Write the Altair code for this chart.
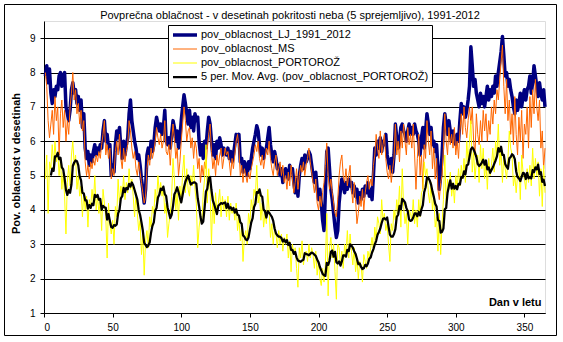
import altair as alt
import pandas as pd

days = list(range(1, 366))

lj = [
    7.9, 8.2, 7.7, 8.1, 7.4, 7.1, 7.5, 7.3, 7.6, 7.5,
    7.9, 8.0, 7.6, 7.9, 8.0, 7.0, 6.8, 6.6, 6.9, 7.5,
    7.7, 7.4, 7.5, 7.1, 7.3, 6.9, 7.2, 6.4, 6.8, 5.8,
    5.5, 5.7, 5.3, 5.6, 5.4, 5.7, 5.9, 5.6, 5.8, 5.7,
    5.9, 5.8, 6.3, 6.6, 6.0, 6.2, 5.8, 5.9, 5.0, 5.3,
    5.1, 5.9, 6.3, 6.1, 6.4, 5.8, 5.5, 6.0, 5.6, 5.9,
    6.1, 6.8, 7.2, 6.6, 6.3, 6.0, 5.8, 5.5, 5.6, 5.3,
    4.9, 4.6, 4.2, 4.6, 5.6, 5.8, 5.5, 6.0, 5.7, 5.9,
    6.4, 6.7, 6.5, 6.3, 6.5, 6.2, 6.4, 6.9, 6.0, 5.9,
    6.1, 5.8, 6.2, 6.6, 6.4, 6.0, 6.3, 5.8, 6.1, 6.6,
    7.0, 7.35, 7.1, 6.8, 6.5, 6.9, 6.4, 6.7, 6.3, 6.8,
    6.6, 6.7, 6.0, 5.6, 5.9, 5.5, 6.0, 5.8, 6.3, 6.7,
    6.5, 6.0, 5.6, 5.9, 5.5, 6.0, 5.8, 6.1, 5.9, 5.6,
    5.8, 5.7, 5.6, 5.8, 5.5, 5.7, 5.4, 5.6, 5.9, 6.2,
    6.0, 6.2, 5.4, 5.5, 5.1, 5.4, 5.3, 5.0, 5.4, 5.2,
    5.5, 5.8, 6.0, 6.2, 6.45, 6.3, 5.9, 5.6, 5.8, 5.5,
    5.7, 5.8, 6.1, 6.4, 5.9, 5.6, 5.4, 5.7, 5.5, 5.2,
    5.3, 5.0, 5.2, 4.8, 5.1, 5.2, 5.0, 4.9, 5.3, 5.1,
    5.2, 4.8, 4.5, 4.9, 4.4, 5.0, 5.3, 5.5, 5.2, 5.6,
    5.4, 5.5, 5.7, 5.6, 5.3, 5.0, 4.8, 5.1, 4.6, 4.3,
    4.6, 4.2, 3.7, 3.4, 4.5, 5.7, 5.8, 5.2, 4.6, 4.3,
    3.9, 3.5, 3.2, 3.4, 4.2, 4.6, 4.9, 4.7, 4.5, 4.8,
    4.6, 4.9, 4.7, 4.8, 4.5, 4.7, 4.4, 4.6, 4.2, 4.5,
    4.3, 4.6, 4.4, 4.7, 4.5, 4.8, 4.4, 4.6, 4.3, 5.0,
    5.8, 5.6, 6.0, 5.8, 6.1, 5.7, 6.0, 5.9, 6.2, 5.6,
    5.4, 5.2, 5.5, 5.1, 5.6, 6.5, 6.1, 5.8, 6.0, 6.4,
    6.5, 6.3, 6.2, 6.0, 6.3, 6.5, 6.2, 6.4, 6.2, 6.5,
    6.3, 6.2, 6.0, 5.6, 6.1, 6.4, 5.8, 6.3, 6.8, 6.5,
    6.2, 6.4, 5.9, 6.0, 5.7, 5.9, 5.2, 4.6, 5.0, 5.6,
    6.4, 6.8, 6.5, 6.2, 6.6, 6.3, 6.0, 6.3, 6.0, 5.9,
    6.2, 6.0, 6.6, 7.1, 6.8, 7.0, 6.7, 6.9, 7.2, 7.6,
    8.75, 8.2, 7.6, 7.8, 7.4, 7.2, 7.0, 7.4, 7.1, 7.3,
    7.0, 7.3, 7.6, 7.2, 7.5, 7.3, 7.6, 7.4, 7.9, 7.6,
    8.0, 8.3, 8.6, 9.05, 8.5, 7.9, 8.0, 7.6, 7.8, 7.5,
    7.3, 7.0, 6.8, 7.2, 6.9, 7.1, 7.4, 7.0, 7.3, 7.5,
    7.2, 7.5, 7.6, 7.9, 7.4, 7.7, 8.2, 7.9, 7.6, 7.3,
    7.7, 7.4, 7.2, 7.5, 7.0,
]

ms = [
    8.0, 7.6, 6.6, 6.1, 6.5, 6.9, 6.2, 7.3, 6.6, 7.0,
    5.6, 6.8, 7.2, 6.4, 6.9, 6.0, 6.6, 6.2, 7.0, 7.4,
    8.0, 7.2, 7.5, 6.8, 7.1, 6.5, 6.9, 6.3, 6.6, 5.4,
    5.0, 5.3, 4.9, 5.4, 5.2, 5.5, 5.3, 5.6, 5.4, 5.7,
    5.5, 5.9, 6.2, 6.6, 5.6, 5.9, 5.5, 5.8, 4.9, 5.2,
    5.0, 5.7, 6.0, 5.6, 6.2, 5.5, 5.2, 5.8, 5.4, 5.7,
    5.9, 6.6, 6.3, 5.8, 5.5, 5.7, 5.2, 5.0, 5.4, 5.1,
    4.8, 4.5, 4.2, 4.4, 5.2, 5.6, 5.3, 5.8, 5.5, 5.7,
    6.0, 6.4, 6.1, 5.9, 6.2, 5.8, 6.0, 6.6, 5.7, 5.6,
    5.9, 5.3, 6.0, 6.5, 6.1, 5.5, 5.8, 5.0, 5.4, 6.0,
    6.5, 7.0, 6.6, 6.0, 6.3, 6.4, 5.8, 6.1, 5.5, 6.0,
    5.8, 5.2, 5.5, 4.8, 5.3, 5.0, 5.4, 5.2, 5.8, 6.2,
    6.5, 5.7, 5.2, 5.5, 5.0, 5.6, 5.3, 5.6, 5.8, 5.2,
    5.5, 5.8, 5.6, 5.7, 5.4, 5.0, 5.5, 5.2, 5.6, 6.0,
    6.2, 5.8, 5.0, 5.3, 4.8, 5.2, 5.0, 4.8, 5.1, 4.9,
    5.2, 5.4, 5.6, 5.9, 5.7, 6.0, 5.5, 5.3, 5.6, 5.2,
    5.5, 5.8, 5.6, 6.0, 5.5, 5.2, 5.0, 5.4, 5.6, 5.0,
    5.2, 5.4, 5.0, 5.3, 4.8, 5.0, 4.6, 5.1, 4.7, 5.3,
    4.9, 4.5, 4.8, 5.2, 4.6, 5.0, 5.3, 5.1, 5.4, 5.0,
    5.3, 5.5, 5.8, 5.4, 5.1, 4.8, 4.5, 4.9, 4.2, 4.0,
    4.4, 4.1, 4.5, 4.8, 5.3, 5.95, 5.0, 4.6, 4.9, 4.5,
    4.2, 3.9, 3.8, 4.3, 5.0, 5.4, 5.6, 5.0, 4.8, 5.2,
    4.7, 5.0, 5.3, 4.6, 4.2, 4.8, 4.3, 3.6, 3.9, 4.4,
    4.1, 4.6, 4.0, 4.5, 4.8, 5.0, 4.6, 4.9, 4.7, 5.3,
    5.6, 6.2, 5.8, 5.5, 6.3, 5.6, 5.9, 6.2, 5.5, 5.1,
    4.9, 5.3, 4.8, 5.2, 5.5, 6.5, 5.6, 6.0, 5.4, 6.3,
    5.8, 6.5, 6.0, 5.6, 6.4, 5.9, 6.2, 5.8, 6.5, 5.6,
    4.6, 5.5, 6.2, 5.0, 5.6, 4.6, 5.9, 5.5, 6.6, 6.0,
    5.6, 6.3, 5.2, 5.8, 4.9, 5.5, 4.6, 4.3, 4.8, 5.0,
    5.8, 6.8, 6.0, 5.6, 6.4, 5.9, 6.2, 5.8, 6.4, 5.6,
    6.0, 5.5, 6.3, 6.8, 6.2, 7.0, 6.4, 6.1, 6.6, 7.0,
    6.5, 7.0, 6.0, 5.6, 6.8, 6.2, 5.9, 6.6, 6.0, 6.9,
    6.3, 6.8, 6.0, 6.6, 6.2, 7.0, 6.5, 7.2, 6.8, 7.5,
    7.2, 7.8, 8.3, 8.8, 7.6, 6.8, 7.8, 6.6, 7.2, 6.2,
    6.8, 5.9, 7.3, 6.2, 5.6, 6.7, 6.0, 6.9, 5.5, 6.5,
    6.2, 7.0, 5.8, 7.3, 6.4, 7.5, 6.8, 7.8, 7.0, 6.6,
    7.2, 5.8, 6.3, 5.2, 5.8,
]

pr = [
    4.9, 5.6, 3.9, 5.4, 5.2, 5.9, 5.3, 6.0, 5.4, 5.7,
    5.0, 5.5, 4.6, 5.1, 4.4, 3.3, 4.8, 5.3, 4.7, 5.6,
    6.0, 5.3, 5.6, 4.6, 5.0, 4.4, 4.7, 3.8, 4.5, 4.0,
    4.4, 3.5, 4.3, 4.1, 4.6, 4.2, 5.0, 4.0, 4.4, 3.9,
    4.3, 3.4, 4.6, 4.2, 3.8, 2.6, 4.2, 3.6, 3.3, 3.7,
    3.0, 4.1, 3.8, 4.9, 4.2, 4.7, 4.4, 5.0, 4.3, 4.8,
    4.5, 5.2, 4.6, 4.9, 4.4, 3.8, 4.5, 3.9, 3.4, 3.7,
    2.7, 3.3, 2.1, 3.1, 3.4, 2.9, 3.8, 3.5, 4.1, 3.9,
    4.6, 4.2, 5.0, 4.5, 4.8, 4.4, 4.7, 3.9, 4.2, 3.2,
    3.6, 3.9, 4.4, 5.5, 4.9, 4.0, 4.5, 3.7, 4.7, 4.2,
    5.1, 5.6, 4.5, 5.2, 4.6, 4.4, 5.0, 4.7, 5.3, 4.6,
    4.2, 2.9, 3.5, 3.8, 3.6, 4.5, 4.9, 5.9, 4.2, 5.2,
    4.6, 3.0, 4.4, 3.6, 4.5, 3.9, 4.2, 4.6, 3.8, 4.4,
    4.0, 4.3, 3.8, 4.4, 3.7, 4.2, 3.9, 4.1, 3.7, 4.2,
    3.4, 3.8, 3.1, 3.5, 2.5, 3.2, 3.4, 3.0, 3.9, 3.6,
    4.3, 4.0, 4.6, 4.4, 5.3, 4.2, 4.5, 3.7, 4.2, 3.5,
    3.9, 3.6, 4.6, 4.0, 3.2, 3.6, 3.0, 3.5, 3.3, 2.9,
    3.4, 3.0, 3.3, 2.8, 3.2, 3.0, 3.3, 2.6, 3.1, 2.2,
    3.0, 2.7, 2.9, 2.3, 1.75, 2.9, 2.6, 3.1, 2.4, 2.7,
    2.8, 2.5, 3.0, 2.6, 2.9, 2.7, 2.3, 2.8, 2.1, 2.5,
    2.0, 1.8, 2.3, 1.9, 2.4, 3.9, 1.5, 2.9, 3.2, 2.6,
    3.0, 2.2, 1.4, 3.0, 2.9, 2.4, 2.8, 2.3, 3.0, 2.7,
    3.4, 2.6, 3.3, 2.8, 2.4, 2.9, 2.2, 2.6, 2.0, 2.5,
    2.4, 1.9, 2.7, 2.5, 2.3, 2.8, 2.6, 2.9, 3.2, 2.8,
    3.5, 3.1, 3.8, 3.6, 3.3, 4.3, 3.7, 3.9, 3.4, 3.6,
    3.0, 2.5, 3.6, 3.4, 4.0, 3.7, 4.3, 3.9, 4.7, 3.5,
    5.2, 4.1, 3.6, 3.9, 3.0, 4.0, 3.9, 3.7, 4.3, 3.6,
    4.0, 3.5, 4.3, 3.8, 4.5, 4.6, 5.4, 5.0, 5.2, 4.5,
    4.2, 4.8, 4.0, 4.4, 3.5, 3.8, 2.8, 3.9, 2.7, 3.6,
    4.3, 5.6, 4.1, 4.9, 4.6, 5.1, 4.4, 4.8, 4.2, 5.0,
    4.6, 5.2, 4.7, 5.3, 4.9, 5.5, 4.8, 6.0, 5.4, 6.0,
    6.6, 5.1, 5.7, 4.9, 5.4, 5.6, 4.8, 5.9, 5.2, 5.8,
    4.9, 5.4, 4.6, 5.5, 5.0, 5.3, 5.8, 5.1, 6.0, 5.6,
    6.5, 5.3, 5.8, 4.8, 5.6, 5.2, 4.9, 5.5, 6.3, 5.8,
    5.6, 4.7, 5.0, 4.5, 5.0, 5.4, 4.3, 5.6, 5.1, 4.9,
    4.6, 5.2, 4.8, 5.3, 4.7, 5.8, 4.9, 5.5, 5.0, 5.4,
    4.4, 5.2, 4.1, 5.3, 4.5,
]

assert len(lj) == 365 and len(ms) == 365 and len(pr) == 365, (len(lj), len(ms), len(pr))

names = [
    "pov_oblacnost_LJ_1991_2012",
    "pov_oblacnost_MS",
    "pov_oblacnost_PORTOROŽ",
    "5 per. Mov. Avg. (pov_oblacnost_PORTOROŽ)",
]
colors = ["#000080", "#FF6600", "#FFFF00", "#000000"]
widths = [3.5, 1, 1, 2.25]

title_text = "Povprečna oblačnost - v desetinah pokritosti neba (5 sprejemljivo), 1991-2012"

x_ticks = [0, 50, 100, 150, 200, 250, 300, 350]
y_ticks = [1, 2, 3, 4, 5, 6, 7, 8, 9]

df = pd.DataFrame({
    "day": days * 3,
    "value": lj + ms + pr,
    "series": [names[0]] * 365 + [names[1]] * 365 + [names[2]] * 365,
})

FONT = "Liberation Sans"

x_enc = alt.X(
    "day:Q",
    scale=alt.Scale(domain=[0, 365], nice=False, zero=False),
    axis=alt.Axis(
        values=x_ticks, grid=False, title="Dan v letu",
        titleFont=FONT, titleFontSize=11, titleFontWeight="bold", titleColor="black",
        titleAlign="right", titleBaseline="middle", titleX=497, titleY=-11,
        labelFont=FONT, labelFontSize=10, labelColor="black", labelPadding=5,
        tickSize=4, tickColor="black", domainColor="black", format="d",
    ),
)

y_axis = alt.Axis(
    values=y_ticks, grid=True, gridColor="black", gridWidth=1,
    title="Pov. oblacnost v desetinah",
    titleFont=FONT, titleFontSize=11, titleFontWeight="bold", titleColor="black",
    titleAngle=270, titleAlign="center", titleBaseline="middle",
    titleX=-28, titleY=142,
    labelFont=FONT, labelFontSize=10, labelColor="black", labelPadding=5,
    tickSize=4, tickColor="black", domainColor="black", format="d",
)
y_scale = alt.Scale(domain=[1, 9.5], nice=False, zero=False)

legend = alt.Legend(
    title=None, orient="none", legendX=124, legendY=4,
    fillColor="white", strokeColor="black", padding=3,
    labelFont=FONT, labelFontSize=11, labelColor="black", labelOffset=2,
    labelLimit=400,
    symbolType="stroke", symbolSize=576, clipHeight=14, rowPadding=0,
)

color_enc = alt.Color("series:N", scale=alt.Scale(domain=names, range=colors), legend=legend)
width_enc = alt.StrokeWidth(
    "series:N", scale=alt.Scale(type="ordinal", domain=names, range=widths), legend=legend
)

base = alt.Chart(df).encode(
    x=x_enc,
    y=alt.Y("value:Q", scale=y_scale, axis=y_axis),
    color=color_enc,
    strokeWidth=width_enc,
)

l_lj = base.transform_filter(alt.datum.series == names[0]).mark_line(strokeJoin="round")
l_ms = base.transform_filter(alt.datum.series == names[1]).mark_line()
l_pr = base.transform_filter(alt.datum.series == names[2]).mark_line()

l_ma = (
    alt.Chart(df)
    .transform_filter(alt.datum.series == names[2])
    .transform_window(ma="mean(value)", frame=[-4, 0], sort=[alt.SortField("day")])
    .transform_filter(alt.datum.day >= 5)
    .transform_calculate(series="'" + names[3] + "'")
    .mark_line(strokeJoin="round")
    .encode(
        x=x_enc,
        y=alt.Y("ma:Q", scale=y_scale, axis=y_axis),
        color=color_enc,
        strokeWidth=width_enc,
    )
)

one = pd.DataFrame({"k": [0]})

frame = alt.Chart(one).mark_rect(
    fill=None, stroke="black", strokeWidth=1
).encode(
    x=alt.value(-39.5), x2=alt.value(512.5), y=alt.value(-16.5), y2=alt.value(314.5)
)

title = alt.Chart(one).mark_text(
    text=title_text, font=FONT, fontSize=11, color="black",
    align="center", baseline="alphabetic",
).encode(x=alt.value(246), y=alt.value(-2))

chart = (
    alt.layer(frame, l_lj, l_ms, l_pr, l_ma, title)
    .properties(
        width=501, height=292,
        autosize=alt.AutoSizeParams(type="none"),
        padding={"left": 44, "top": 21, "right": 18, "bottom": 29},
    )
    .configure_view(fill="#C0C0C0", stroke="#808080", strokeWidth=1)
    .configure(background="white")
)

chart.save("out.html", embed_options={"renderer": "svg", "actions": False})
